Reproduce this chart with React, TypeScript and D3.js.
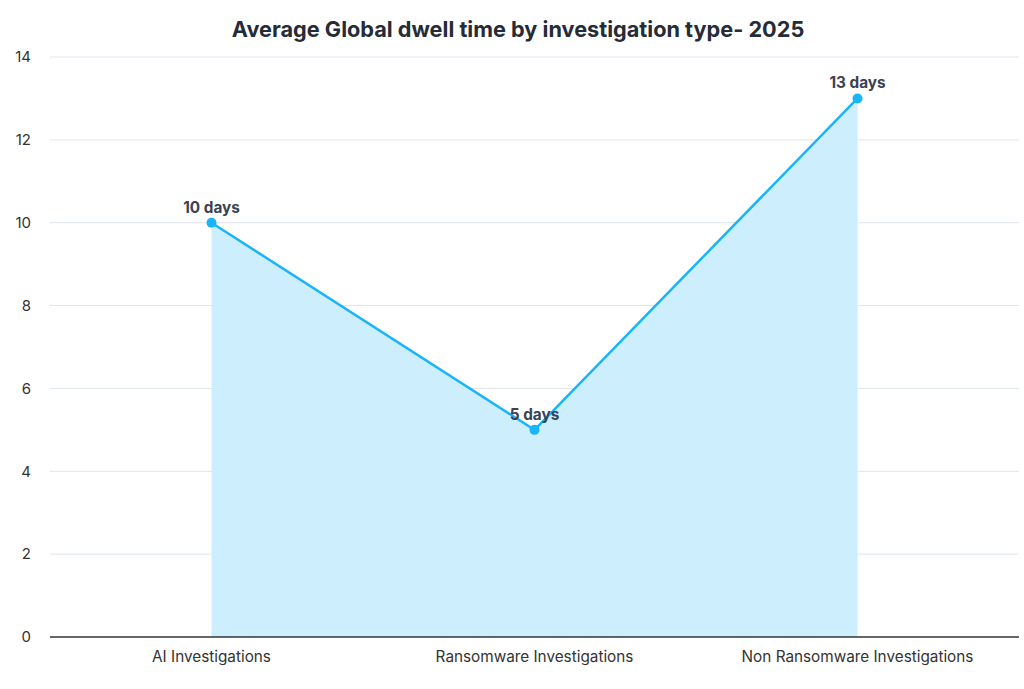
import React from "react";
import * as d3 from "d3";

const categories = ["AI Investigations", "Ransomware Investigations", "Non Ransomware Investigations"];
const values = [10, 5, 13];
const labels = ["10 days", "5 days", "13 days"];
const yTicks = [0, 2, 4, 6, 8, 10, 12, 14];
const title = "Average Global dwell time by investigation type- 2025";

export default function App() {
  const W = 1024, H = 689;
  const left = 50, right = 1019, top = 57, bottom = 637;
  const x = d3.scaleBand<string>().domain(categories).range([left, right]);
  const y = d3.scaleLinear().domain([0, 14]).range([bottom, top]);
  const cx = (c: string) => (x(c) as number) + x.bandwidth() / 2;
  const data = categories.map((c, i) => ({ c, v: values[i], l: labels[i] }));
  const line = d3.line<any>().x(d => cx(d.c)).y(d => y(d.v));
  const area = d3.area<any>().x(d => cx(d.c)).y0(y(0)).y1(d => y(d.v));
  const font = "Inter, 'Noto Sans', sans-serif";
  return (
    <svg width={W} height={H} style={{ position: "absolute", left: 0, top: 0, background: "#fff" }} fontFamily={font}>
      <text x={518} y={37} textAnchor="middle" fontSize={21.7} fontWeight={700} fill="#262b38">{title}</text>
      {yTicks.map(t => (
        <g key={t}>
          {t !== 0 && <line x1={left} x2={right} y1={y(t)} y2={y(t)} stroke="#dde5ec" strokeWidth={1} />}
          <text x={31} y={y(t)} dy="0.35em" textAnchor="end" fontSize={15} fill="#333">{t}</text>
        </g>
      ))}
      <path d={area(data) as string} fill="#cdeefd" />
      <line x1={left} x2={right} y1={y(0)} y2={y(0)} stroke="#333" strokeWidth={1.5} />
      <path d={line(data) as string} fill="none" stroke="#1ab4fb" strokeWidth={2.5} />
      {data.map(d => (
        <g key={d.c}>
          <circle cx={cx(d.c)} cy={y(d.v)} r={5} fill="#1ab4fb" />
          <text x={cx(d.c)} y={y(d.v) - 10} textAnchor="middle" fontSize={15.3} fontWeight={700} fill="#3b4152">{d.l}</text>
          <text x={cx(d.c)} y={662} textAnchor="middle" fontSize={15.3} fill="#333">{d.c}</text>
        </g>
      ))}
    </svg>
  );
}
